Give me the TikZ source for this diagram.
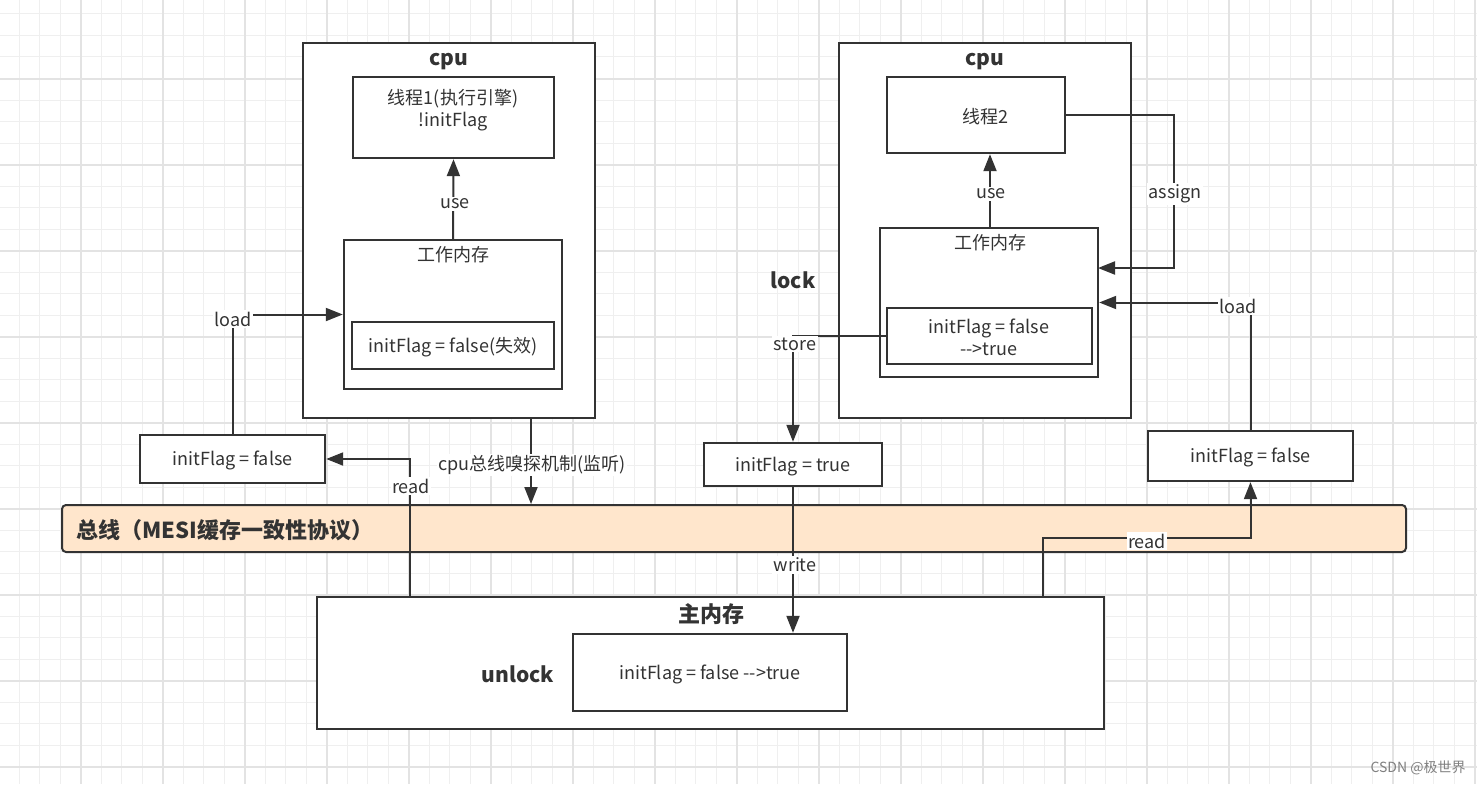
\documentclass[tikz,border=0pt]{standalone}
\usepackage{fontspec}
\setmainfont{Noto Sans CJK SC}
\usetikzlibrary{arrows.meta}
\definecolor{ink}{HTML}{333333}
\definecolor{gridminor}{HTML}{EFEFEF}
\definecolor{gridmajor}{HTML}{E3E3E3}
\definecolor{busfill}{HTML}{FFE6CC}
\begin{document}
\begin{tikzpicture}[x=1pt,y=-1pt,
  box/.style={draw=ink,line width=2.4pt,rectangle,inner sep=0pt,fill=white},
  conn/.style={draw=ink,line width=2pt},
  arr/.style={conn,-{Triangle[length=17pt,width=13pt]}},
  lbl/.style={fill=white,inner sep=1.5pt,font=\fontsize{18}{20}\selectfont,text=ink},
  txt/.style={inner sep=0pt,font=\fontsize{18}{22}\selectfont,text=ink,align=center},
  title/.style={inner sep=0pt,font=\fontsize{21}{24}\selectfont\bfseries,text=ink}]
\useasboundingbox (0,0) rectangle (1477,784);
\fill[white] (0,0) rectangle (1477,784);
% grid
\foreach \i in {0,...,72} {\draw[gridminor,line width=1pt] (19+20.5*\i,0) -- (19+20.5*\i,784);}
\foreach \j in {0,...,36} {\draw[gridminor,line width=1pt] (0,14+21.5*\j) -- (1477,14+21.5*\j);}
\foreach \i in {0,...,18} {\draw[gridmajor,line width=1.2pt] (81+82*\i,0) -- (81+82*\i,784);}
\foreach \j in {0,...,9} {\draw[gridmajor,line width=1.2pt] (0,79+86*\j) -- (1477,79+86*\j);}

% left cpu
\node[box,minimum width=292pt,minimum height=375pt] (cpu1) at (449,230.5) {};
\node[title] (cpu1t) at (449,62) {cpu};
\node[box,minimum width=201pt,minimum height=81pt] (thr1) at (453.5,117.5) {};
\node[txt] (thr1t) at (453,110) {线程1(执行引擎)\\!initFlag};
\node[box,minimum width=218pt,minimum height=149pt] (wm1) at (453,314.5) {};
\node[txt] (wm1t) at (453,255) {工作内存};
\node[box,minimum width=202pt,minimum height=47pt] (in1) at (453,345.5) {};
\node[txt] (in1t) at (453,347) {initFlag = false(失效)};

% right cpu
\node[box,minimum width=292pt,minimum height=375pt] (cpu2) at (985,230.5) {};
\node[title] (cpu2t) at (985,62) {cpu};
\node[box,minimum width=178pt,minimum height=76pt] (thr2) at (976,115) {};
\node[txt] (thr2t) at (985,117) {线程2};
\node[box,minimum width=218pt,minimum height=149pt] (wm2) at (989,302.5) {};
\node[txt] (wm2t) at (990,243) {工作内存};
\node[box,minimum width=205pt,minimum height=56pt] (in2) at (989.5,336) {};
\node[txt] (in2t) at (989,337) {initFlag = false\\-{}->true};
\node[title] (lock) at (793,280) {lock};

% small boxes
\node[box,minimum width=185pt,minimum height=48pt] (lf) at (232.5,459) {};
\node[txt] (lft) at (232.5,460) {initFlag = false};
\node[box,minimum width=178pt,minimum height=43pt] (tb) at (793,464.5) {};
\node[txt] (tbt) at (793,467) {initFlag = true};
\node[box,minimum width=205pt,minimum height=50pt] (rf) at (1250.5,456) {};
\node[txt] (rft) at (1250.5,457) {initFlag = false};

% bus
\node[draw=ink,line width=2pt,fill=busfill,rounded corners=4pt,minimum width=1344pt,minimum height=47pt,inner sep=0pt] (bus) at (734,528.5) {};
\node[title,anchor=west,font=\fontsize{22}{24}\selectfont\bfseries] (bust) at (76,530) {总线（MESI缓存一致性协议）};

% main memory
\node[box,minimum width=787pt,minimum height=132pt] (mm) at (710.5,663) {};
\node[title,font=\fontsize{22}{24}\selectfont\bfseries] (mmt) at (711,614) {主内存};
\node[box,minimum width=274pt,minimum height=77pt] (mmin) at (710,672.5) {};
\node[txt] (mmint) at (710,674) {initFlag = false -{}->true};
\node[title] (unlock) at (518,674) {unlock};

% connectors
\draw[arr] (wm1.north) -- (thr1.south);
\draw[arr] (wm2.north -| 990,0) -- (thr2.south -| 990,0);
\draw[arr] (lf.north) |- (wm1.west);
\coordinate (r1) at (410,597);
\draw[arr] (r1) |- (lf.east);
\coordinate (sn) at (531,418);
\draw[arr] (sn) -- (sn |- bus.north);
\coordinate (asgC) at (1174,268);
\coordinate (asgE) at (1098,268);
\draw[arr] (thr2.east) -| (asgC) -- (asgE);
\draw[arr] (rf.north) |- (wm2.east);
\draw[arr] (in2.west) -| (tb.north);
\draw[arr] (tb.south) -- (tb.south |- mmin.north);
\coordinate (r2) at (1043,597);
\coordinate (r2b) at (1043,538);
\draw[arr] (r2) -- (r2b) -| (rf.south);

% labels
\node[lbl] (use1) at (455,204) {use};
\node[lbl] (use2) at (991,194) {use};
\node[lbl] (load1) at (233,319) {load};
\node[lbl] (read1) at (411,486) {read};
\node[lbl] (snl) at (532,465) {cpu总线嗅探机制(监听)};
\node[lbl] (asg) at (1175,194) {assign};
\node[lbl] (load2) at (1238,306) {load};
\node[lbl] (store) at (795,344) {store};
\node[lbl] (write) at (795,565) {write};
\node[lbl] (read2) at (1147,541) {read};
\node[inner sep=0pt,font=\fontsize{14}{16}\selectfont,text=gray] (wm) at (1418,768) {CSDN @极世界};
\end{tikzpicture}
\end{document}
